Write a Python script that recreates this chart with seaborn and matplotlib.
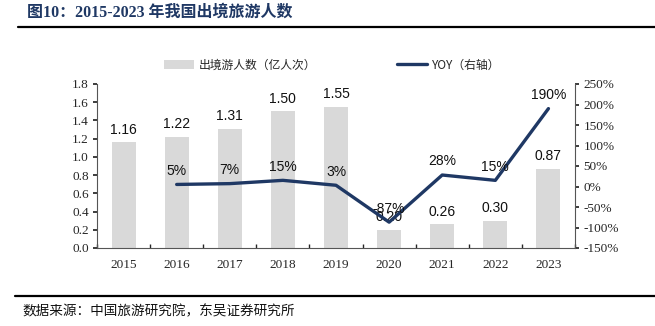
import numpy as np
import pandas as pd
import matplotlib
matplotlib.use("Agg")
import matplotlib.pyplot as plt
import seaborn as sns
from matplotlib.patches import Patch
from matplotlib.lines import Line2D

years = ["2015", "2016", "2017", "2018", "2019", "2020", "2021", "2022", "2023"]
trips = [1.16, 1.22, 1.31, 1.50, 1.55, 0.20, 0.26, 0.30, 0.87]
yoy = [np.nan, 5, 7, 15, 3, -87, 28, 15, 190]
left_ticks = [0.0, 0.2, 0.4, 0.6, 0.8, 1.0, 1.2, 1.4, 1.6, 1.8]
right_ticks = [-150, -100, -50, 0, 50, 100, 150, 200, 250]

sns.set_theme(style="white")
plt.rcParams['font.family'] = ['Liberation Serif', 'Noto Sans CJK SC', 'DejaVu Sans']

BAR_C = "#d9d9d9"
LINE_C = "#1f3864"
CJK = ['Noto Sans CJK SC', 'DejaVu Sans']
SANS = ['Liberation Sans', 'DejaVu Sans']

df = pd.DataFrame({"year": years, "trips": trips, "yoy": yoy})
df["pos"] = np.arange(len(years))

fig = plt.figure(figsize=(6.55, 3.26), dpi=100)
ax = fig.add_axes([97/655, 1-248/326, (575-97)/655, (248-84)/326])

sns.barplot(data=df, x="year", y="trips", color=BAR_C, width=0.45, ax=ax,
            saturation=1, edgecolor="none")
ax.set_xlim(-0.5, len(years)-0.5)
ax.set_ylim(0, 1.8)
ax.set_yticks(left_ticks)
ax.set_yticklabels([f"{v:.1f}" for v in left_ticks], fontsize=9.5)
ax.set_xlabel("")
ax.set_ylabel("")
ax.tick_params(axis="x", length=0, labelsize=9.5, pad=8)
ax.tick_params(axis="y", length=3, direction="out", pad=3, left=True)
ax.set_xticks(np.arange(-0.5, len(years), 1), minor=True)
ax.tick_params(axis="x", which="minor", length=3, direction="in", bottom=True)
for sp in ["top", "right"]:
    ax.spines[sp].set_visible(False)
for sp in ["left", "bottom"]:
    ax.spines[sp].set_color("#555555")
    ax.spines[sp].set_linewidth(0.8)

for p, v in zip(df["pos"], df["trips"]):
    ax.text(p, v + 0.06, f"{v:.2f}", ha="center", va="bottom", fontsize=10,
            family=SANS, color="#111111")

ax2 = ax.twinx()
sns.lineplot(data=df, x="pos", y="yoy", color=LINE_C, linewidth=2.4, ax=ax2)
ax2.set_ylim(-150, 250)
ax2.set_xlim(-0.5, len(years)-0.5)
ax2.set_yticks(right_ticks)
ax2.set_yticklabels([f"{v}%" for v in right_ticks], fontsize=9.5)
ax2.set_ylabel("")
ax2.set_xlabel("")
ax2.tick_params(axis="y", length=3, direction="out", pad=3, right=True)
for sp in ["top", "left", "bottom"]:
    ax2.spines[sp].set_visible(False)
ax2.spines["right"].set_color("#555555")
ax2.spines["right"].set_linewidth(0.8)

for p, v in zip(df["pos"], df["yoy"]):
    if np.isnan(v):
        continue
    ax2.text(p, v + 16, f"{v:.0f}%", ha="center", va="bottom", fontsize=10,
             family=SANS, color="#111111")

handles = [Patch(facecolor=BAR_C, edgecolor="none"),
           Line2D([0], [0], color=LINE_C, linewidth=2.4)]
leg = fig.legend(handles, ["出境游人数（亿人次）", "YOY（右轴）"],
                 loc="center", bbox_to_anchor=(332/655, 1-65/326), ncol=2,
                 frameon=False, prop={"family": CJK, "size": 8.5},
                 columnspacing=6.8, handlelength=2.6, handletextpad=0.4)

fig.text(27/655, 1-13/326, "图10：2015-2023 年我国出境旅游人数", fontsize=11.5,
         fontweight="bold", color="#1f3864", va="center", ha="left",
         family=['Liberation Serif', 'Noto Sans CJK SC'])
fig.add_artist(Line2D([18/655, 1.0], [1-27/326, 1-27/326], color="black",
                      linewidth=1.6, transform=fig.transFigure))
fig.add_artist(Line2D([15/655, 1.0], [1-296/326, 1-296/326], color="black",
                      linewidth=1.6, transform=fig.transFigure))
fig.text(22/655, 1-311/326, "数据来源：中国旅游研究院，东吴证券研究所", fontsize=9.8,
         color="#111111", va="center", ha="left", family=CJK)

fig.savefig("out.png", dpi=100)
